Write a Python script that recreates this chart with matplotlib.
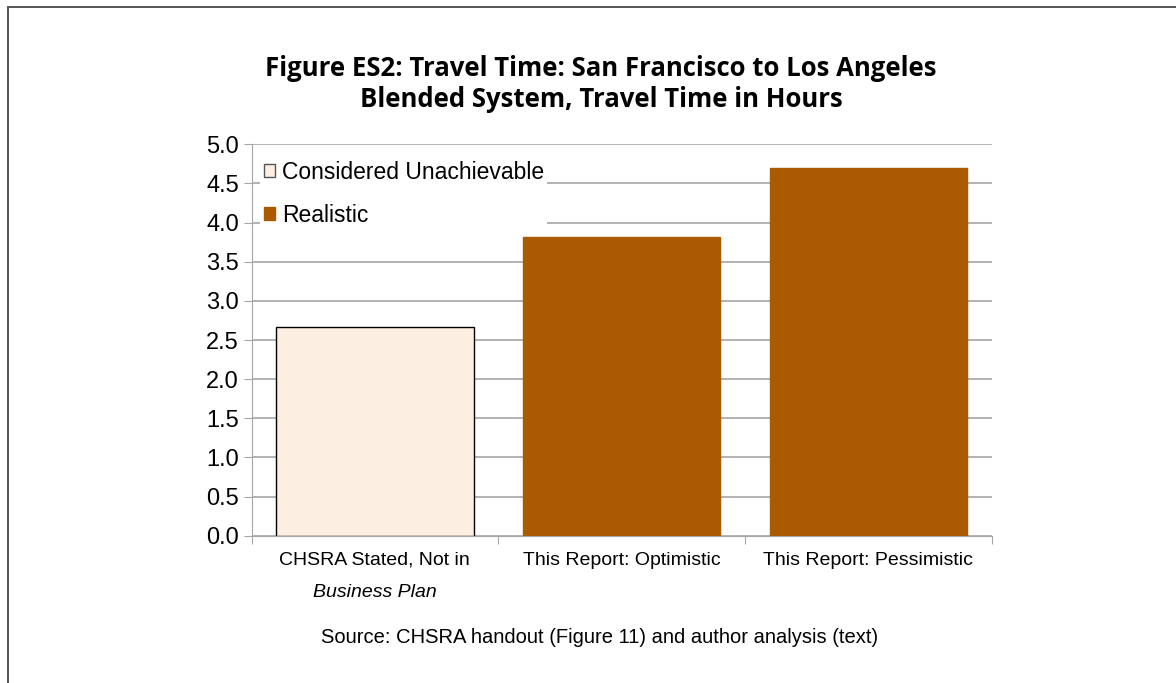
import matplotlib.pyplot as plt
from matplotlib.patches import Patch, Rectangle
from matplotlib.transforms import blended_transform_factory

categories = ["CHSRA Stated, Not in", "This Report: Optimistic", "This Report: Pessimistic"]
hours = [2.66, 3.82, 4.70]
kinds = ["Considered Unachievable", "Realistic", "Realistic"]

light = "#FDEEE2"
brown = "#AA5A00"
plt.rcParams['font.family'] = ["Liberation Sans", "DejaVu Sans"]

W, H = 1176, 683
fig = plt.figure(figsize=(W / 100, H / 100), dpi=100)
# outer frame of the page
fig.patches.append(Rectangle((7.5 / W, -0.05), 1.2, 1 - 6.5 / H + 0.05,
                             transform=fig.transFigure, fill=False,
                             edgecolor="#555555", linewidth=1.4))

ax = fig.add_axes([251.5 / W, (H - 535.7) / H, 740 / W, 391.4 / H])

colors = [light if k == "Considered Unachievable" else brown for k in kinds]
edges = ["black" if k == "Considered Unachievable" else brown for k in kinds]
x = range(len(categories))
ax.bar(x, hours, width=0.8, color=colors, edgecolor=edges, linewidth=1, zorder=3)

ax.set_xlim(-0.5, 2.5)
ax.set_ylim(0, 5)
ax.set_yticks([i * 0.5 for i in range(11)])
ax.set_yticklabels([f"{i * 0.5:.1f}" for i in range(11)], fontsize=17)
ax.yaxis.grid(True, color="#a6a6a6", linewidth=1.2, zorder=0)
ax.set_axisbelow(True)

ax.set_xticks([-0.5, 0.5, 1.5, 2.5], minor=False)
ax.set_xticklabels([])
ax.set_xticks(list(x), minor=True)
ax.set_xticklabels(categories, minor=True, fontsize=14)
ax.tick_params(axis="x", which="minor", length=0, pad=11.5)
ax.tick_params(axis="x", which="major", length=6, color="#a6a6a6")
ax.tick_params(axis="y", length=6, color="#a6a6a6", pad=3)

for s in ["top", "right"]:
    ax.spines[s].set_visible(False)
ax.spines["left"].set_color("#a6a6a6")
ax.spines["bottom"].set_color("#a6a6a6")

tr = blended_transform_factory(ax.transData, fig.transFigure)
ax.text(0, 1 - 597 / H, "Business Plan", transform=tr, ha="center", va="baseline",
        fontsize=14, style="italic")

handles = [Patch(facecolor=light, edgecolor="#555555", label="Considered Unachievable"),
           Patch(facecolor=brown, edgecolor=brown, label="Realistic")]
leg = ax.legend(handles=handles, loc="upper left", bbox_to_anchor=(0.0117, 0.966),
                fontsize=16.5, frameon=True, fancybox=False, framealpha=1,
                handlelength=0.5, handleheight=0.5, handletextpad=0.3,
                labelspacing=0.85, borderaxespad=0, borderpad=0.15)
leg.get_frame().set_edgecolor("white")
leg.get_frame().set_linewidth(0)
leg.set_zorder(5)

title_font = ["Open Sans", "DejaVu Sans"]
fig.text(601 / W, 1 - 76 / H, "Figure ES2: Travel Time: San Francisco to Los Angeles",
         ha="center", va="baseline", fontsize=18.5, fontweight="bold", family=title_font)
fig.text(601 / W, 1 - 107 / H, "Blended System, Travel Time in Hours",
         ha="center", va="baseline", fontsize=18.5, fontweight="bold", family=title_font)

fig.text(600 / W, 1 - 643 / H, "Source: CHSRA handout (Figure 11) and author analysis (text)",
         ha="center", va="baseline", fontsize=14.5)

plt.savefig("out.png", dpi=100)
